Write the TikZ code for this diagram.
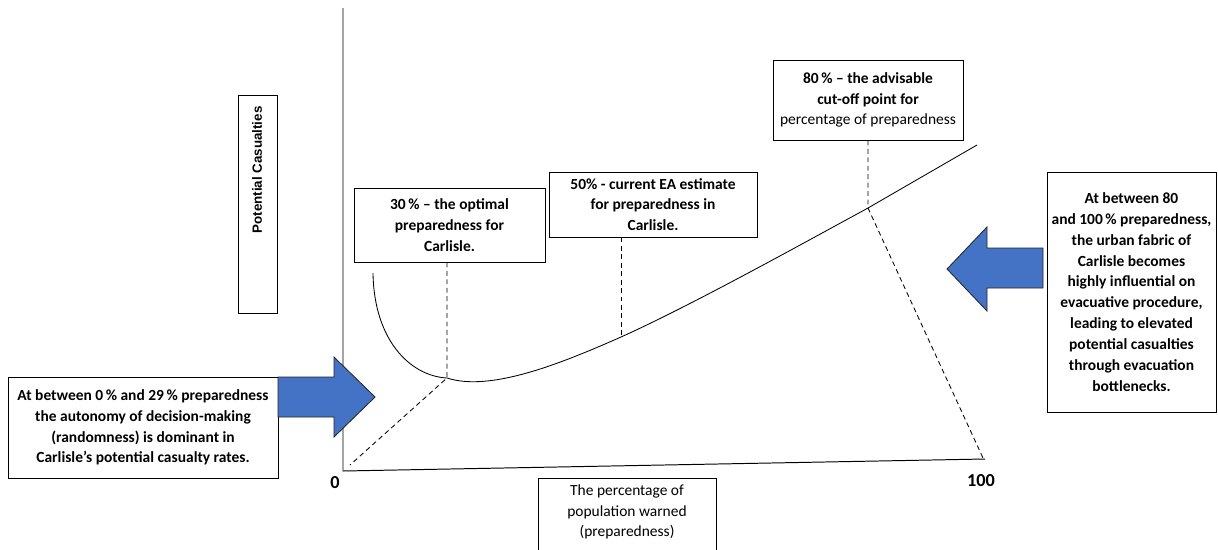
\documentclass[tikz,border=0pt]{standalone}
\usepackage{fontspec}
\setmainfont{Carlito}
\newfontfamily\axisfont{Liberation Sans}
\definecolor{arrowblue}{HTML}{4472C4}
\begin{document}
\begin{tikzpicture}[x=0.025cm, y=-0.025cm,
    box/.style={draw, line width=0.6pt, inner sep=0pt, align=center, font=\bfseries\fontsize{11}{14.8}\selectfont},
    guide/.style={dash pattern=on 3.5pt off 2.5pt, line width=0.6pt},
    bigarrow/.style={fill=arrowblue, draw=black!85, line width=0.6pt}]
    \clip (0,0) rectangle (1218,549);
    % axes
    \coordinate (O) at (343,471);
    \coordinate (ytop) at (343,8);
    \coordinate (xend) at (985,459);
    \draw[line width=0.7pt] (ytop) -- (O) -- (xend);
    \node[font=\bfseries\fontsize{13}{15}\selectfont] (zero) at (335,483) {0};
    \node[font=\bfseries\fontsize{13}{15}\selectfont] (hundred) at (981,481) {100};
    % axis label boxes
    \node[box, minimum width=0.975cm, minimum height=5.45cm] (ybox) at (257.5,204) {};
    \node[rotate=90, font=\axisfont\bfseries\fontsize{9.5}{11}\selectfont] (ylab) at (257,170) {Potential Casualties};
    \node[box, minimum width=4.45cm, minimum height=2.1cm] (xbox) at (627,520) {};
    \node[align=center, font=\fontsize{11}{14.8}\selectfont] (xlab) at (627,512) {The percentage of\\population warned\\(preparedness)};
    % text boxes
    \node[box, minimum width=6.75cm, minimum height=2.525cm] (lbox) at (143,427.5) {At between 0\,\% and 29\,\% preparedness\\the autonomy of decision-making\\(randomness) is dominant in\\Carlisle’s potential casualty rates.};
    \node[box, minimum width=4.225cm, minimum height=6cm] (rbox) at (1131.5,292) {At between 80\\and 100\,\% preparedness,\\the urban fabric of\\Carlisle becomes\\highly influential on\\evacuative procedure,\\leading to elevated\\potential casualties\\through evacuation\\bottlenecks.};
    \node[box, minimum width=4.775cm, minimum height=1.85cm] (box30) at (449.5,225) {30\,\% -- the optimal\\preparedness for\\Carlisle.};
    \node[box, minimum width=5.2cm, minimum height=1.625cm] (box50) at (653,204.5) {50\% - current EA estimate\\for preparedness in\\Carlisle.};
    \node[box, minimum width=4.75cm, minimum height=2cm] (box80) at (868,100) {80\,\% -- the advisable\\cut-off point for\\\mdseries percentage of preparedness};
    % curve
    \coordinate (p30) at (447,378);
    \coordinate (p50) at (621,337);
    \coordinate (p80) at (868,208);
    \draw[line width=0.6pt] (373,273) .. controls (374,340) and (410,376) .. (p30)
        .. controls (490,392) and (560,364) .. (p50)
        .. controls (690,306) and (800,245) .. (p80) -- (977,145);
    % guides
    \coordinate (g0) at (350,465);
    \coordinate (g100) at (983,458);
    \draw[guide] (box30.south -| p30) -- (p30) -- (g0);
    \draw[guide] (box50.south -| p50) -- (p50);
    \draw[guide] (box80.south) -- (p80) -- (g100);
    % arrows
    \draw[bigarrow] (278,377) -- (334,377) -- (334,357) -- (375,397) -- (334,437) -- (334,417) -- (278,417) -- cycle;
    \draw[bigarrow] (1043,248) -- (987,248) -- (987,227) -- (947,269) -- (987,311) -- (987,288) -- (1043,288) -- cycle;
\end{tikzpicture}
\end{document}
